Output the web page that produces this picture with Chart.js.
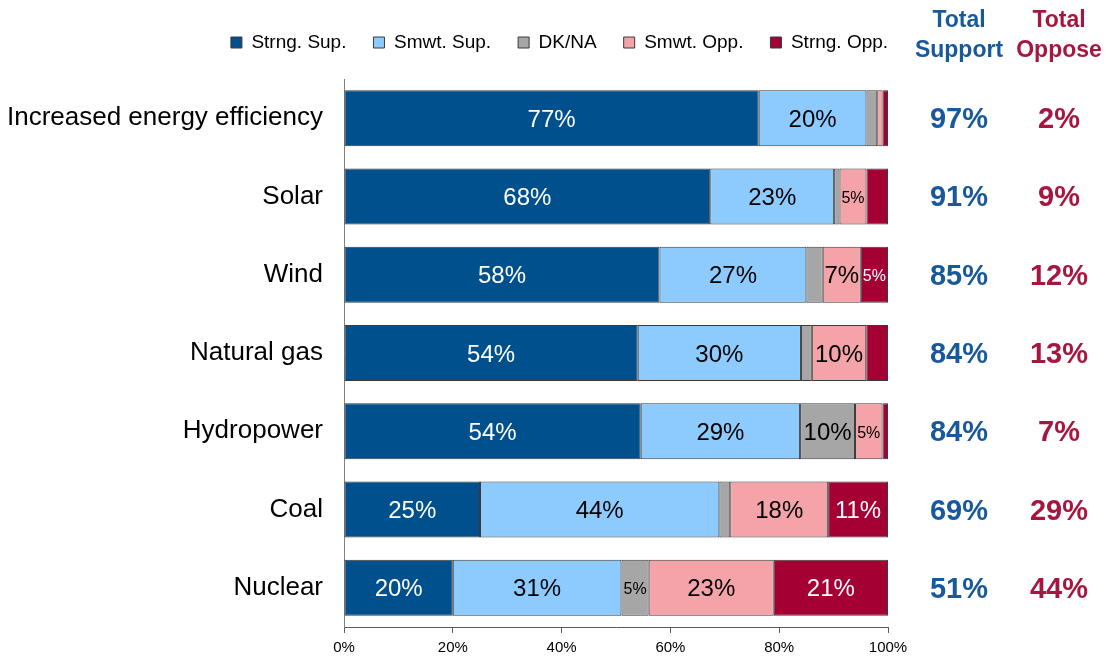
<!DOCTYPE html>
<html>
<head>
<meta charset="utf-8">
<script src="https://cdn.jsdelivr.net/npm/chart.js@4.4.1/dist/chart.umd.min.js"></script>
<style>
  html, body { margin: 0; padding: 0; background: #fff; }
  #wrap { width: 1105px; height: 656px; }
</style>
</head>
<body>
<div id="wrap"><canvas id="energyChart" width="1105" height="656"></canvas></div>
<script>
// survey values, as printed on the chart (rows do not always add to exactly 100)
var categories = ["Increased energy efficiency", "Solar", "Wind", "Natural gas", "Hydropower", "Coal", "Nuclear"];
var strongSup = [77, 68, 58, 54, 54, 25, 20];
var smwtSup   = [20, 23, 27, 30, 29, 44, 31];
var dkNa      = [2, 1, 3, 2, 10, 2, 5];
var smwtOpp   = [1, 5, 7, 10, 5, 18, 23];
var strongOpp = [1, 4, 5, 4, 1, 11, 21];
var totalSupport = [97, 91, 85, 84, 84, 69, 51];
var totalOppose  = [2, 9, 12, 13, 7, 29, 44];
var xTicks = [0, 20, 40, 60, 80, 100];

var FONT = '"Liberation Sans", Arial, sans-serif';
var SUPPORT_COLOR = '#17599B';
var OPPOSE_COLOR = '#A6173F';

var rows = [strongSup, smwtSup, dkNa, smwtOpp, strongOpp];
var rowSums = categories.map(function(c, i){
    return rows.reduce(function(s, r){ return s + r[i]; }, 0);
});
// bars are drawn as share of the row so every bar fills 0-100%
function share(arr){
    return arr.map(function(v, i){ return v / rowSums[i] * 100; });
}

function makeSet(label, values, color, textColor){
    return {
        label: label,
        data: share(values),
        rawValues: values,
        textColor: textColor,
        backgroundColor: color,
        borderColor: '#3a3a3a',
        borderWidth: 1,
        borderSkipped: false,
        yAxisID: 'y',
        barPercentage: 0.715,
        categoryPercentage: 1.0
    };
}

// percent labels inside the bar segments
var barLabels = {
    id: 'barLabels',
    afterDatasetsDraw: function(chart){
        var ctx = chart.ctx;
        ctx.save();
        ctx.textAlign = 'center';
        ctx.textBaseline = 'middle';
        chart.data.datasets.forEach(function(ds, di){
            var meta = chart.getDatasetMeta(di);
            meta.data.forEach(function(bar, i){
                var v = ds.rawValues[i];
                if (v < 5) return;
                var p = bar.getProps(['x', 'y', 'base'], true);
                ctx.font = (v <= 5 ? '16px ' : '24px ') + FONT;
                ctx.fillStyle = ds.textColor;
                ctx.fillText(v + '%', (p.x + p.base) / 2, p.y + 2);
            });
        });
        ctx.restore();
    }
};

// the two total columns on the right
var totals = {
    id: 'totals',
    beforeInit: function(chart){
        var legend = chart.legend;
        var fit = legend.fit;
        legend.fit = function(){
            fit.call(legend);
            this.height = 73;
        };
    },
    afterLayout: function(chart){
        // legend sits a little right of the canvas centre
        chart.legend.left += 7;
        chart.legend.right += 7;
    },
    afterDraw: function(chart){
        var ctx = chart.ctx;
        var y = chart.scales.y;
        var side = chart.scales.side;
        var supX = side.left + 71;
        var oppX = side.left + 171;
        ctx.save();
        ctx.textAlign = 'center';
        ctx.textBaseline = 'middle';
        ctx.font = 'bold 23px ' + FONT;
        ctx.fillStyle = SUPPORT_COLOR;
        ctx.fillText('Total', supX, 21);
        ctx.fillText('Support', supX, 51);
        ctx.fillStyle = OPPOSE_COLOR;
        ctx.fillText('Total', oppX, 21);
        ctx.fillText('Oppose', oppX, 51);
        ctx.font = 'bold 29px ' + FONT;
        categories.forEach(function(c, i){
            var py = y.getPixelForValue(i) + 2;
            ctx.fillStyle = SUPPORT_COLOR;
            ctx.fillText(totalSupport[i] + '%', supX, py);
            ctx.fillStyle = OPPOSE_COLOR;
            ctx.fillText(totalOppose[i] + '%', oppX, py);
        });
        ctx.restore();
    }
};

var config = {
    type: 'bar',
    data: {
        labels: categories,
        datasets: [
            makeSet('Strng. Sup.', strongSup, '#00508E', '#ffffff'),
            makeSet('Smwt. Sup.', smwtSup, '#8DCBFF', '#000000'),
            makeSet('DK/NA', dkNa, '#A6A6A6', '#000000'),
            makeSet('Smwt. Opp.', smwtOpp, '#F4A3A8', '#000000'),
            makeSet('Strng. Opp.', strongOpp, '#A50034', '#ffffff')
        ]
    },
    options: {
        indexAxis: 'y',
        responsive: false,
        animation: false,
        layout: { padding: { top: 6, left: 0, right: 0, bottom: 0 } },
        plugins: {
            tooltip: { enabled: false },
            legend: {
                display: true,
                position: 'top',
                labels: {
                    boxWidth: 11,
                    boxHeight: 11,
                    padding: 27,
                    color: '#000',
                    font: { family: FONT, size: 19 }
                }
            }
        },
        scales: {
            x: {
                stacked: true,
                min: 0,
                max: 100,
                afterBuildTicks: function(s){
                    s.ticks = xTicks.map(function(v){ return { value: v }; });
                },
                afterFit: function(s){ s.height = 29; },
                ticks: {
                    color: '#000',
                    padding: 6,
                    font: { family: FONT, size: 15 },
                    callback: function(v){ return v + '%'; }
                },
                grid: { drawOnChartArea: false, drawTicks: true, tickLength: 6, color: '#595959' },
                border: { color: '#595959' }
            },
            y: {
                stacked: true,
                afterFit: function(s){ s.width = 344; },
                ticks: {
                    color: '#000',
                    padding: 13,
                    font: { family: FONT, size: 26 }
                },
                grid: { display: false },
                border: { color: '#808080' }
            },
            side: {
                type: 'category',
                position: 'right',
                offset: true,
                afterFit: function(s){ s.width = 217; },
                ticks: { display: false },
                grid: { display: false, drawTicks: false },
                border: { display: false }
            }
        }
    },
    plugins: [barLabels, totals]
};

var chartCtx = document.getElementById('energyChart');
var energyChart = new Chart(chartCtx, config);
</script>
</body>
</html>
